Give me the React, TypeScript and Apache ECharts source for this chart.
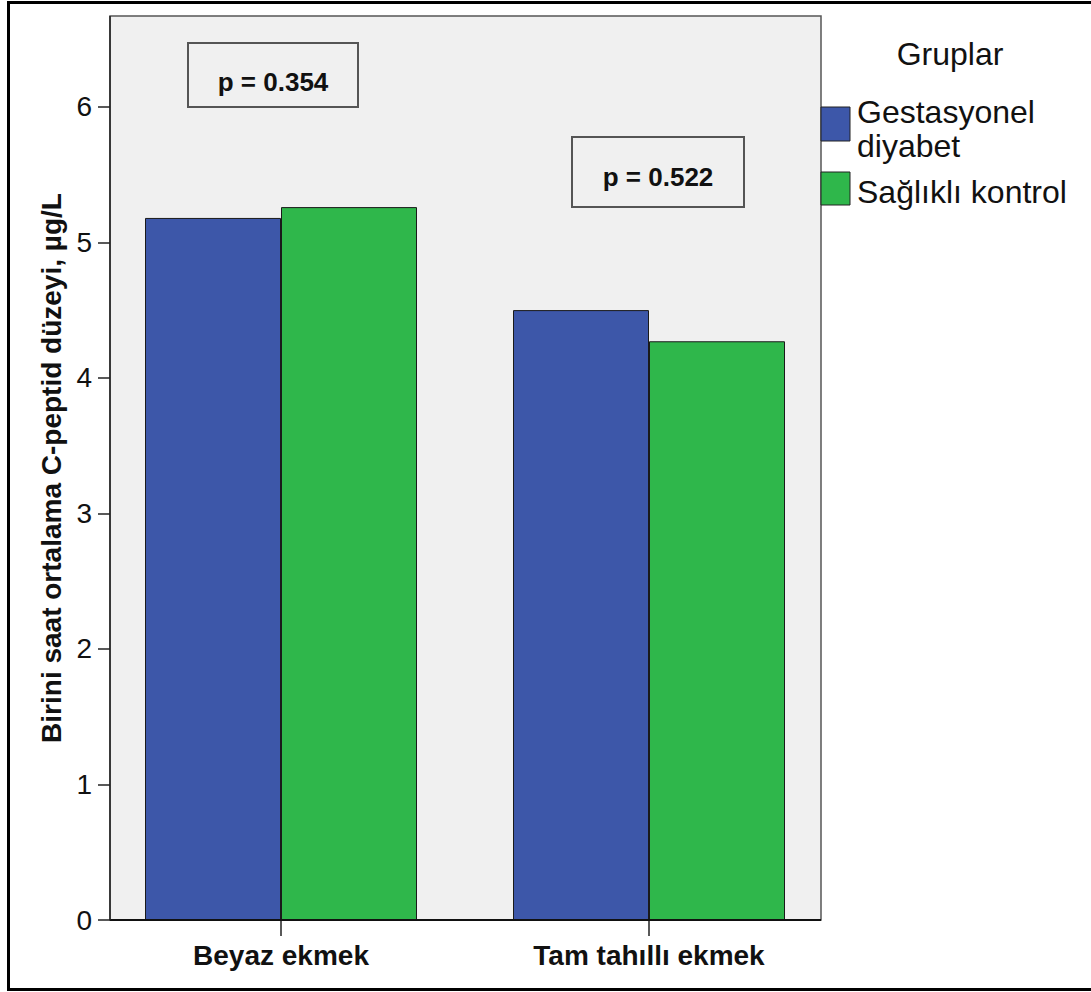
import React, { useEffect, useRef } from "react";
import * as echarts from "echarts";

const categories = ["Beyaz ekmek", "Tam tahıllı ekmek"];
const seriesNames = ["Gestasyonel diyabet", "Sağlıklı kontrol"];
const legendLabels = ["Gestasyonel\ndiyabet", "Sağlıklı kontrol"];
const gestasyonelValues = [5.18, 4.5];
const kontrolValues = [5.26, 4.27];
const yTicks = [0, 1, 2, 3, 4, 5, 6];
const yMax = 6.67;
const pValues = ["p = 0.354", "p = 0.522"];
const legendTitle = "Gruplar";
const yAxisTitle = "Birini saat ortalama C-peptid düzeyi, µg/L";

const BLUE = "#3d57a9";
const GREEN = "#2fb74b";
const BG = "#f0f0f0";
const FONT = "'Liberation Sans', Arial, sans-serif";

export default function App() {
  const ref = useRef<HTMLDivElement>(null);

  useEffect(() => {
    document.body.style.margin = "0";
    if (!ref.current) return;
    const chart = echarts.init(ref.current, undefined, { renderer: "svg" });

    const plotL = 110, plotT = 16, plotR = 821, plotB = 920;

    const option: any = {
      animation: false,
      backgroundColor: "#ffffff",
      textStyle: { fontFamily: FONT },
      grid: { left: 97, right: 1091 - 833, top: plotT, bottom: 992 - plotB, containLabel: false },
      xAxis: {
        type: "category",
        data: categories,
        axisLine: { show: false },
        axisTick: { show: true, alignWithLabel: true, length: 16, lineStyle: { color: "#222", width: 1.5 } },
        axisLabel: { fontSize: 28, fontWeight: "bold", color: "#111", margin: 21, fontFamily: FONT },
        splitLine: { show: false },
      },
      yAxis: {
        type: "value",
        min: 0,
        max: yMax,
        interval: 1,
        offset: -13,
        axisLine: { show: false },
        axisTick: { show: true, length: 12, customValues: yTicks, lineStyle: { color: "#222", width: 1.5 } },
        axisLabel: {
          fontSize: 28,
          color: "#111",
          margin: 18,
          fontFamily: FONT,
          customValues: yTicks,
          formatter: (v: number) => (Number.isInteger(v) ? String(v) : ""),
        },
        splitLine: { show: false },
        name: yAxisTitle,
        nameLocation: "middle",
        nameRotate: 90,
        nameGap: 45,
        nameTextStyle: { fontSize: 28, fontWeight: "bold", color: "#111", fontFamily: FONT },
      },
      series: [
        {
          name: seriesNames[0],
          type: "bar",
          data: gestasyonelValues,
          barWidth: 136,
          barGap: "0%",
          itemStyle: { color: BLUE, borderColor: "#1a1a1a", borderWidth: 1 },
          z: 2,
        },
        {
          name: seriesNames[1],
          type: "bar",
          data: kontrolValues,
          barWidth: 136,
          barGap: "0%",
          itemStyle: { color: GREEN, borderColor: "#1a1a1a", borderWidth: 1 },
          z: 2,
        },
      ],
      graphic: [
        // outer frame
        { type: "rect", z: 0, shape: { x: 8.5, y: 2.5, width: 1100, height: 987 }, style: { fill: "none", stroke: "#000", lineWidth: 3 } },
        // plot background
        { type: "rect", z: 0, shape: { x: plotL, y: plotT, width: plotR - plotL, height: plotB - plotT }, style: { fill: BG, stroke: "#555", lineWidth: 1.5 } },
        // axis lines
        { type: "line", z: 10, shape: { x1: plotL, y1: plotB, x2: plotR, y2: plotB }, style: { stroke: "#111", lineWidth: 2 } },
        { type: "line", z: 10, shape: { x1: plotL, y1: plotT, x2: plotL, y2: plotB }, style: { stroke: "#222", lineWidth: 1.5 } },
        // p-value boxes
        { type: "rect", z: 10, shape: { x: 188, y: 43, width: 170, height: 64 }, style: { fill: BG, stroke: "#555", lineWidth: 2 } },
        { type: "text", z: 11, x: 273, y: 82, style: { text: pValues[0], font: `bold 26px ${FONT}`, fill: "#111", align: "center", verticalAlign: "middle" } },
        { type: "rect", z: 10, shape: { x: 572, y: 137, width: 172, height: 70 }, style: { fill: BG, stroke: "#555", lineWidth: 2 } },
        { type: "text", z: 11, x: 658, y: 177, style: { text: pValues[1], font: `bold 26px ${FONT}`, fill: "#111", align: "center", verticalAlign: "middle" } },
        // legend
        { type: "text", z: 10, x: 950, y: 54, style: { text: legendTitle, font: `32px ${FONT}`, fill: "#111", align: "center", verticalAlign: "middle" } },
        { type: "rect", z: 10, shape: { x: 821, y: 107, width: 29, height: 34 }, style: { fill: BLUE, stroke: "#222", lineWidth: 1 } },
        { type: "text", z: 10, x: 857, y: 129, style: { text: legendLabels[0], font: `32px ${FONT}`, lineHeight: 34, fill: "#111", align: "left", verticalAlign: "middle" } },
        { type: "rect", z: 10, shape: { x: 821, y: 172, width: 29, height: 33 }, style: { fill: GREEN, stroke: "#222", lineWidth: 1 } },
        { type: "text", z: 10, x: 857, y: 192, style: { text: legendLabels[1], font: `32px ${FONT}`, fill: "#111", align: "left", verticalAlign: "middle" } },
      ],
    };

    chart.setOption(option);
    return () => chart.dispose();
  }, []);

  return <div ref={ref} style={{ width: 1091, height: 992 }} />;
}
